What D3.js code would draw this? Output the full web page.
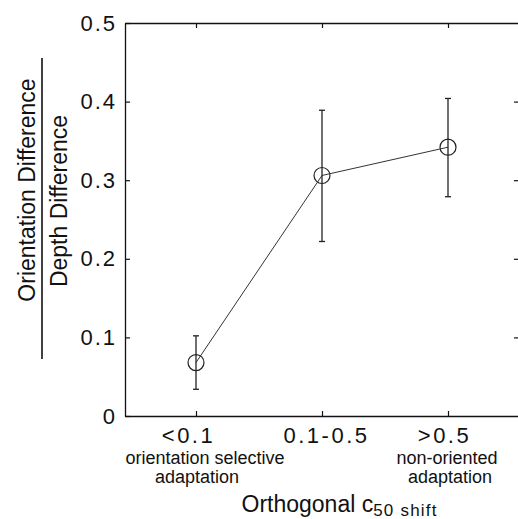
<!DOCTYPE html>
<html>
<head>
<meta charset="utf-8">
<script src="https://cdn.jsdelivr.net/npm/d3@7"></script>
<style>
  body { margin: 0; background: #fff; }
  svg { display: block; }
  text { font-family: "Liberation Sans", Arial, Helvetica, sans-serif; fill: #111; }
</style>
</head>
<body>
<svg id="chart" width="518" height="519"></svg>
<script>
// Orthogonal c50 shift groups
const categories = ["<0.1", "0.1-0.5", ">0.5"];
const categoryNotesLine1 = ["orientation selective", "", "non-oriented"];
const categoryNotesLine2 = ["adaptation", "", "adaptation"];

// Ratio (orientation difference / depth difference): mean and error-bar limits
const ratioMean = [0.068, 0.306, 0.342];
const ratioLow  = [0.034, 0.222, 0.279];
const ratioHigh = [0.102, 0.389, 0.404];

const yTicks = [0, 0.1, 0.2, 0.3, 0.4, 0.5];
const yTickLabels = ["0", "0.1", "0.2", "0.3", "0.4", "0.5"];

const svg = d3.select("#chart");
const plotLeft = 125, plotRight = 519, plotTop = 23, plotBottom = 416;

const pos = categories.map((c, i) => i + 1);
const x = d3.scaleLinear().domain([1 - 71 / 126, 3 + 71 / 126]).range([plotLeft, plotRight]);
const y = d3.scaleLinear().domain([0, 0.5]).range([plotBottom, plotTop]);

const axisStyle = g => {
  g.selectAll("path.domain").attr("stroke", "#111").attr("stroke-width", 1.3);
  g.selectAll(".tick line").attr("stroke", "#111").attr("stroke-width", 1.2);
};

// bottom axis with category labels
const gx = svg.append("g").attr("transform", `translate(0,${plotBottom})`)
  .call(d3.axisBottom(x).tickValues(pos).tickFormat((d, i) => categories[i])
    .tickSizeInner(-5).tickSizeOuter(0).tickPadding(11.5))
  .call(axisStyle);
gx.attr("font-family", null).attr("font-size", null);
gx.selectAll(".tick text")
  .attr("font-size", 22).attr("fill", "#111")
  .style("letter-spacing", "2.5px");
const labelShift = [-8, 4, -4];
gx.selectAll(".tick text").attr("dx", (d, i) => labelShift[i]);

// top axis (ticks only)
svg.append("g").attr("transform", `translate(0,${plotTop})`)
  .call(d3.axisTop(x).tickValues(pos).tickFormat("").tickSizeInner(-5).tickSizeOuter(0))
  .call(axisStyle);

// left axis with value labels
const gy = svg.append("g").attr("transform", `translate(${plotLeft},0)`)
  .call(d3.axisLeft(y).tickValues(yTicks).tickFormat((d, i) => yTickLabels[i])
    .tickSizeInner(-5).tickSizeOuter(0).tickPadding(8))
  .call(axisStyle);
gy.attr("font-family", null).attr("font-size", null);
gy.selectAll(".tick text")
  .attr("font-size", 22).attr("fill", "#111")
  .style("letter-spacing", "2px");

// right axis (ticks only)
svg.append("g").attr("transform", `translate(${plotRight},0)`)
  .call(d3.axisRight(y).tickValues(yTicks.slice(1, 5)).tickFormat("").tickSizeInner(-5).tickSizeOuter(0))
  .call(axisStyle);
svg.append("line").attr("x1", plotRight).attr("x2", plotRight).attr("y1", plotTop).attr("y2", plotBottom)
  .attr("stroke", "#111").attr("stroke-width", 1.3);

// secondary category notes
const notes = svg.append("g").attr("font-size", 18).attr("text-anchor", "middle");
const note1Shift = [9, 0, -1];
const note2Shift = [1, 0, 2];
notes.selectAll("text.n1").data(categoryNotesLine1).join("text").attr("class", "n1")
  .attr("x", (d, i) => x(pos[i]) + note1Shift[i]).attr("y", 464).text(d => d);
notes.selectAll("text.n2").data(categoryNotesLine2).join("text").attr("class", "n2")
  .attr("x", (d, i) => x(pos[i]) + note2Shift[i]).attr("y", 482.5).text(d => d);

// x-axis title with subscript
const xt = svg.append("text").attr("x", 241.5).attr("y", 512).attr("font-size", 23);
xt.append("tspan").text("Orthogonal c");
xt.append("tspan").attr("font-size", 17).attr("dy", 4).style("letter-spacing", "1.2px").text("50 shift");

// y-axis title as a fraction
const yl = svg.append("g");
yl.append("text").attr("transform", "translate(35,190) rotate(-90)")
  .attr("text-anchor", "middle").attr("font-size", 23).text("Orientation Difference");
yl.append("line").attr("x1", 42).attr("x2", 42).attr("y1", 58).attr("y2", 359)
  .attr("stroke", "#111").attr("stroke-width", 1.6);
yl.append("text").attr("transform", "translate(66.5,201) rotate(-90)")
  .attr("text-anchor", "middle").attr("font-size", 23).text("Depth Difference");

// connecting line
const line = d3.line().x((d, i) => x(pos[i])).y(d => y(d));
svg.append("path").datum(ratioMean).attr("d", line)
  .attr("fill", "none").attr("stroke", "#333").attr("stroke-width", 1);

// error bars
const eb = svg.append("g").attr("stroke", "#222").attr("stroke-width", 1.3);
pos.forEach((p, i) => {
  eb.append("line").attr("x1", x(p)).attr("x2", x(p)).attr("y1", y(ratioLow[i])).attr("y2", y(ratioHigh[i]));
  eb.append("line").attr("x1", x(p) - 3).attr("x2", x(p) + 3).attr("y1", y(ratioLow[i])).attr("y2", y(ratioLow[i]));
  eb.append("line").attr("x1", x(p) - 3).attr("x2", x(p) + 3).attr("y1", y(ratioHigh[i])).attr("y2", y(ratioHigh[i]));
});

// open circle markers
svg.append("g").selectAll("circle").data(ratioMean).join("circle")
  .attr("cx", (d, i) => x(pos[i])).attr("cy", d => y(d)).attr("r", 8)
  .attr("fill", "none").attr("stroke", "#222").attr("stroke-width", 1.2);
</script>
</body>
</html>
